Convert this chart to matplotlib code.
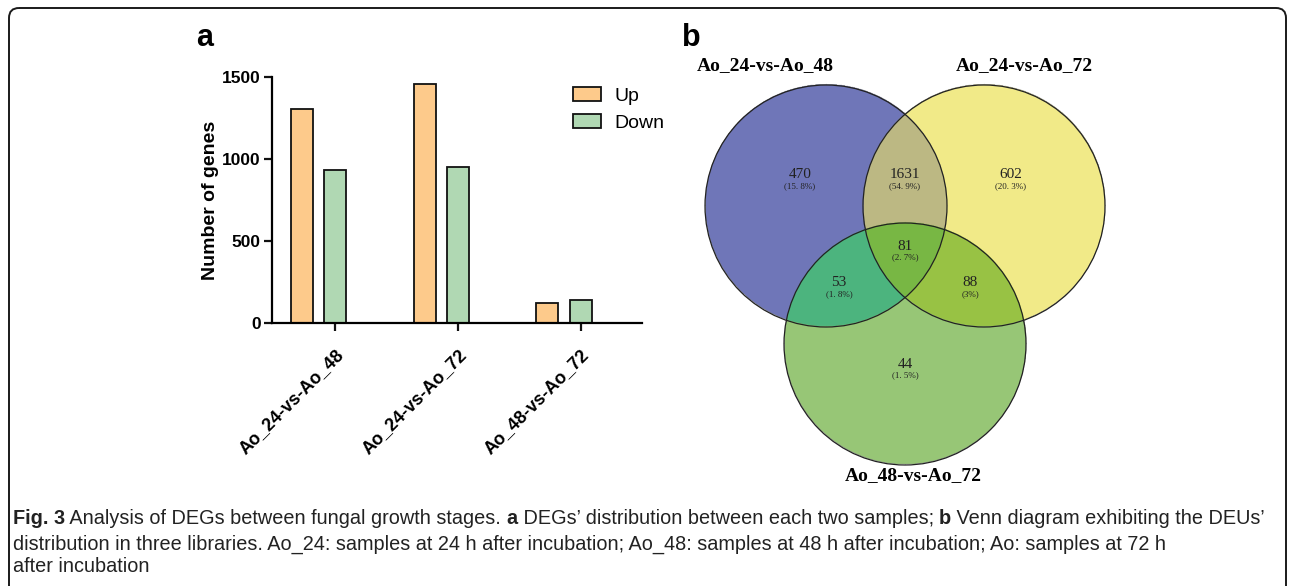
import numpy as np
import matplotlib
matplotlib.use("Agg")
import matplotlib.pyplot as plt
from matplotlib.patches import Circle, FancyBboxPatch

plt.rcParams["font.family"] = ["Liberation Sans", "DejaVu Sans"]

# ---- data: panel a (bar chart) ----
comparisons = ["Ao_24-vs-Ao_48", "Ao_24-vs-Ao_72", "Ao_48-vs-Ao_72"]
up_counts = [1305, 1457, 120]
down_counts = [931, 949, 142]
y_ticks = [0, 500, 1000, 1500]

# ---- data: panel b (Venn) ----
venn_sets = ["Ao_24-vs-Ao_48", "Ao_24-vs-Ao_72", "Ao_48-vs-Ao_72"]
# regions keyed by membership (in set1, in set2, in set3)
venn_regions = [(1, 0, 0), (1, 1, 0), (0, 1, 0), (1, 1, 1), (1, 0, 1), (0, 1, 1), (0, 0, 1)]
venn_counts = [470, 1631, 602, 81, 53, 88, 44]
venn_pct = ["(15. 8%)", "(54. 9%)", "(20. 3%)", "(2. 7%)", "(1. 8%)", "(3%)", "(1. 5%)"]

caption_lines = [
    [("Fig. 3", "bold"), (" Analysis of DEGs between fungal growth stages. ", "normal"), ("a", "bold"),
     (" DEGs\u2019 distribution between each two samples; ", "normal"), ("b", "bold"),
     (" Venn diagram exhibiting the DEUs\u2019", "normal")],
    [("distribution in three libraries. Ao_24: samples at 24 h after incubation; Ao_48: samples at 48 h after incubation; Ao: samples at 72 h", "normal")],
    [("after incubation", "normal")],
]

W, H = 1293, 586
fig = plt.figure(figsize=(W / 100, H / 100), dpi=100)

# full-figure axes in pixel units for the Venn, labels, caption and frame
base = fig.add_axes([0, 0, 1, 1])
base.set_xlim(0, W)
base.set_ylim(H, 0)
base.axis("off")

base.add_patch(FancyBboxPatch((9, 8), 1277, 620, boxstyle="round,pad=0,rounding_size=10",
                              fill=False, edgecolor="#1a1a1a", linewidth=1.4))

# ---- panel a ----
ax = fig.add_axes([272 / W, 1 - 323 / H, (642 - 272) / W, (323 - 77) / H])
ax.set_facecolor("none")
x = np.arange(len(comparisons))
ax.bar(x - 0.27, up_counts, width=0.18, color="#FDCA8B", edgecolor="#111111", linewidth=1.3, label="Up")
ax.bar(x, down_counts, width=0.18, color="#B0D8B3", edgecolor="#111111", linewidth=1.3, label="Down")
ax.set_xlim(-0.513, 2.5)
ax.set_ylim(0, 1500)
ax.set_yticks(y_ticks)
ax.set_xticks(x)
ax.set_xticklabels(comparisons, rotation=45, ha="right", rotation_mode="anchor",
                   fontsize=13, fontweight="bold")
for lab in ax.get_yticklabels():
    lab.set_fontsize(12.5)
    lab.set_fontweight("bold")
ax.set_ylabel("Number of genes", fontsize=14, fontweight="bold", labelpad=2)
for s in ["top", "right"]:
    ax.spines[s].set_visible(False)
for s in ["left", "bottom"]:
    ax.spines[s].set_linewidth(1.6)
ax.tick_params(axis="both", width=1.6, length=6, color="#111111")
ax.tick_params(axis="x", pad=11)
ax.tick_params(axis="y", pad=2)
ax.legend(loc="upper left", bbox_to_anchor=(573 / W, 1 - 87 / H), bbox_transform=fig.transFigure,
          frameon=False, fontsize=14, borderpad=0, borderaxespad=0,
          handlelength=1.45, handleheight=0.75, handletextpad=0.7, labelspacing=0.45)

base.text(205, 38, "a", fontsize=22, fontweight="bold", ha="center", va="center")
base.text(691, 38, "b", fontsize=22, fontweight="bold", ha="center", va="center")

# ---- panel b: Venn ----
r = 121
centers = [(826, 206), (984, 206), (905, 344)]
region_colors = {
    (1, 0, 0): "#6F77B8", (0, 1, 0): "#F2EB88", (0, 0, 1): "#97C677",
    (1, 1, 0): "#BCB883", (1, 0, 1): "#4DB57E", (0, 1, 1): "#98C245",
    (1, 1, 1): "#79B744",
}
xs = np.arange(690, 1120, 0.5)
ys = np.arange(75, 475, 0.5)
X, Y = np.meshgrid(xs, ys)
inside = [((X - cx) ** 2 + (Y - cy) ** 2 <= r ** 2).astype(int) for cx, cy in centers]
img = np.zeros(X.shape + (4,))
for key, col in region_colors.items():
    m = (inside[0] == key[0]) & (inside[1] == key[1]) & (inside[2] == key[2])
    img[m] = matplotlib.colors.to_rgba(col)
base.imshow(img, extent=(xs[0], xs[-1], ys[-1], ys[0]), interpolation="antialiased", zorder=1)
base.set_xlim(0, W)
base.set_ylim(H, 0)
base.set_aspect("auto")
for cx, cy in centers:
    base.add_patch(Circle((cx, cy), r, fill=False, edgecolor="#222222", linewidth=0.9, zorder=2))

(c1x, c1y), (c2x, c2y), (c3x, c3y) = centers
mid_x = (c1x + c2x) / 2
text_pos = {
    (1, 0, 0): (c1x - 26, 175), (1, 1, 0): (mid_x, 175), (0, 1, 0): (c2x + 27, 175),
    (1, 1, 1): (mid_x, 246), (1, 0, 1): (mid_x - 66, 283), (0, 1, 1): (mid_x + 65, 283),
    (0, 0, 1): (c3x, 364),
}
serif = ["Liberation Serif", "DejaVu Serif"]
for key, n, p in zip(venn_regions, venn_counts, venn_pct):
    tx, ty = text_pos[key]
    base.text(tx, ty, str(n), fontsize=11, family=serif, ha="center", va="center", zorder=3, color="#222222")
    base.text(tx, ty + 11, p, fontsize=6.5, family=serif, ha="center", va="center", zorder=3, color="#222222")

label_pos = [(765, 66), (1024, 66), (913, 476)]
for name, (lx, ly) in zip(venn_sets, label_pos):
    base.text(lx, ly, name, fontsize=14, fontweight="bold", family=serif, ha="center", va="center")

# ---- caption ----
cap_font = ["Liberation Sans Narrow", "Liberation Sans", "DejaVu Sans"]
renderer = fig.canvas.get_renderer()
line_y = [519, 544, 567]
for segs, ly in zip(caption_lines, line_y):
    cur = 13
    for txt, wt in segs:
        t = base.text(cur, ly, txt, fontsize=14.3, fontweight=wt, family=cap_font,
                      ha="left", va="center", color="#222222")
        bb = t.get_window_extent(renderer=renderer)
        cur += bb.width

fig.savefig("out.png", dpi=100)
